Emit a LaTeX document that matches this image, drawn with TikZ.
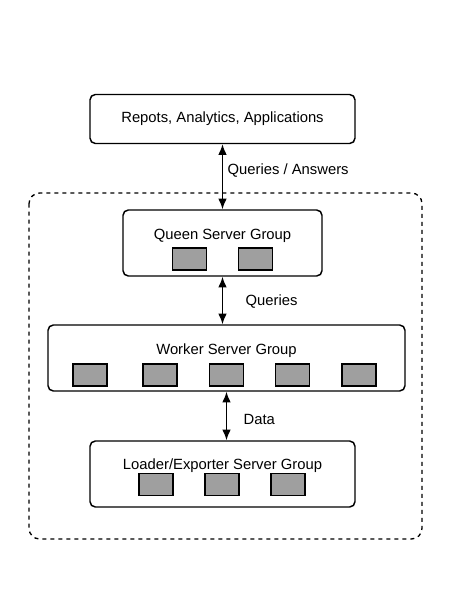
\documentclass[tikz,border=0pt]{standalone}
\usepackage{fontspec}
\setmainfont{Liberation Sans}
\usepackage{tikz}
\usetikzlibrary{arrows.meta}

\begin{document}
\begin{tikzpicture}[x=0.75pt,y=-0.75pt,font=\fontsize{11.1}{13}\selectfont]

        \tikzset{group/.style={draw, line width=1.1pt, rounded corners=4pt},
                 server/.style={draw, line width=1pt, fill=gray!75, minimum width=25.5pt, minimum height=16.5pt, inner sep=0pt},
                 link/.style={{Latex[length=8pt,width=6.5pt]}-{Latex[length=8pt,width=6.5pt]}, line width=1.1pt}}

        \useasboundingbox (0,0) rectangle (466,608);

        \draw[dash pattern=on 3pt off 3pt, line width=1pt, rounded corners=8pt] (29,193) rectangle (422,539);

        \node[group, minimum width=198.75pt, minimum height=36.75pt] (apps) at (222.5,119) {Repots, Analytics, Applications};

        \node[group, minimum width=149.25pt, minimum height=49.5pt] (queen) at (222.5,243) {};
        \node (queentext) at (222.5,236) {Queen Server Group};
        \node[server] (q1) at (189.5,259) {};
        \node[server] (q2) at (255.5,259) {};

        \node[group, minimum width=267.75pt, minimum height=49.5pt] (worker) at (226.5,358) {};
        \node (workertext) at (226.5,351) {Worker Server Group};
        \foreach \x [count=\i] in {90,160,226.5,292.5,359}
          \node[server] (w\i) at (\x,375) {};

        \node[group, minimum width=198.75pt, minimum height=49.5pt] (loader) at (222.5,474) {};
        \node (loadertext) at (222.5,466) {Loader/Exporter Server Group};
        \foreach \x [count=\i] in {156,222,288}
          \node[server] (l\i) at (\x,484.5) {};

        \draw[link] (apps) -- (queen);
        \node[anchor=west] (qa) at (223,171) {Queries / Answers};

        \draw[link] (queen.south) -- (queen.south |- worker.north);
        \node[anchor=west] (qlabel) at (241,302) {Queries};

        \draw[link] (worker.south) -- (worker.south |- loader.north);
        \node[anchor=west] (dlabel) at (239,419) {Data};

    \end{tikzpicture}
\end{document}
